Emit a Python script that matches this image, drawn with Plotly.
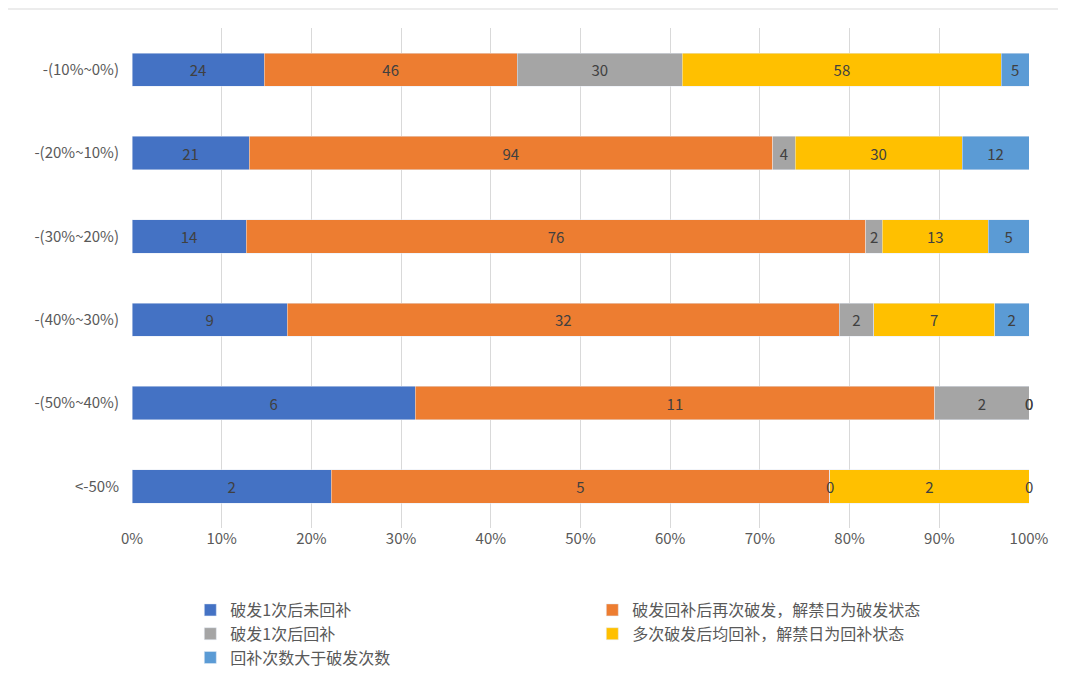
import plotly.graph_objects as go

categories = ["-(10%~0%)", "-(20%~10%)", "-(30%~20%)", "-(40%~30%)", "-(50%~40%)", "<-50%"]
series_names = ["破发1次后未回补", "破发回补后再次破发，解禁日为破发状态", "破发1次后回补",
                "多次破发后均回补，解禁日为回补状态", "回补次数大于破发次数"]
s1 = [24, 21, 14, 9, 6, 2]
s2 = [46, 94, 76, 32, 11, 5]
s3 = [30, 4, 2, 2, 2, 0]
s4 = [58, 30, 13, 7, 0, 2]
s5 = [5, 12, 5, 2, 0, 0]
colors = ["#4472C4", "#ED7D31", "#A5A5A5", "#FFC000", "#5B9BD5"]

series = [s1, s2, s3, s4, s5]
totals = [sum(v) for v in zip(*series)]
font = "Noto Sans CJK SC"

fig = go.Figure()
for name, vals, c in zip(series_names, series, colors):
    pct = [v / t * 100 for v, t in zip(vals, totals)]
    fig.add_trace(go.Bar(
        y=categories, x=pct, name=name, orientation="h", marker_color=c,
        text=[str(v) if v > 0 else "" for v in vals], textposition="inside",
        insidetextanchor="middle", constraintext="none",
        textfont=dict(color="#404040", size=15, family=font),
        hoverinfo="skip"))

# zero-value labels at cumulative position
for i, cat in enumerate(categories):
    cum = 0
    for vals in series:
        p = vals[i] / totals[i] * 100
        if vals[i] == 0:
            fig.add_annotation(x=cum, y=cat, text="0", showarrow=False,
                               font=dict(color="#404040", size=15, family=font))
        cum += p

fig.update_layout(
    barmode="stack", bargap=0.6, width=1066, height=692,
    margin=dict(l=124, r=45, t=20, b=172),
    plot_bgcolor="white", paper_bgcolor="white",
    font=dict(family=font, size=15, color="#595959"),
    xaxis=dict(range=[0, 100], dtick=10, ticksuffix="%", showgrid=True,
               gridcolor="#D9D9D9", zeroline=False, tickfont=dict(size=15)),
    yaxis=dict(categoryorder="array", categoryarray=categories, autorange="reversed",
               ticks="", ticklabelstandoff=12, tickfont=dict(size=15)),
    legend=dict(orientation="h", x=0.065, y=-0.13, xanchor="left", yanchor="top",
                entrywidth=357, entrywidthmode="pixels", traceorder="normal",
                font=dict(size=16, color="#595959")),
    shapes=[dict(type="rect", xref="paper", yref="paper", x0=-0.1395, x1=1.052,
                 y0=-0.343, y1=1.038, line=dict(color="#D9D9D9", width=1))],
)
fig.write_html("out.html")
